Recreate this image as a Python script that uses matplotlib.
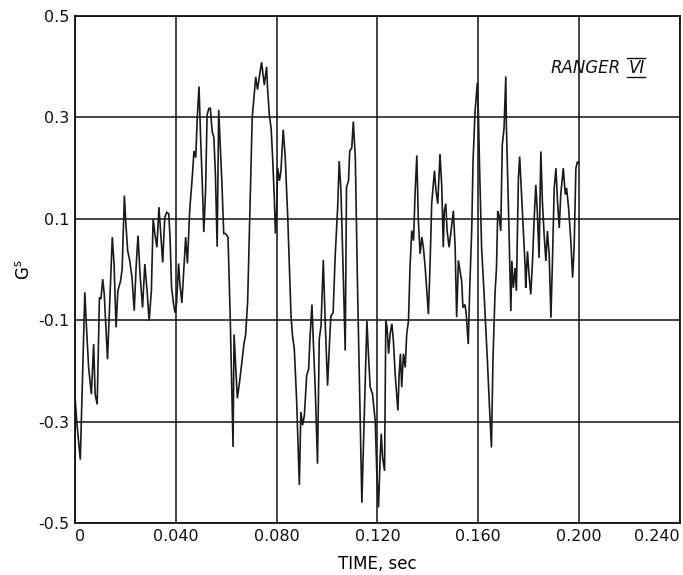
import matplotlib
matplotlib.use("Agg")
import matplotlib.pyplot as plt
from matplotlib.lines import Line2D

time_s = [
    0.0000, 0.0007, 0.0021, 0.0039, 0.0045, 0.0054, 0.0065, 0.0074, 0.0080, 0.0088,
    0.0097, 0.0103, 0.0110, 0.0116, 0.0129, 0.0135, 0.0148, 0.0155, 0.0163, 0.0170,
    0.0181, 0.0187, 0.0196, 0.0201, 0.0209, 0.0217, 0.0226, 0.0235, 0.0243, 0.0250,
    0.0258, 0.0268, 0.0277, 0.0286, 0.0294, 0.0303, 0.0310, 0.0317, 0.0325, 0.0333,
    0.0341, 0.0348, 0.0356, 0.0364, 0.0372, 0.0377, 0.0383, 0.0391, 0.0397,
    0.0403, 0.0411, 0.0416, 0.0424, 0.0433, 0.0439, 0.0446, 0.0455, 0.0466, 0.0472,
    0.0479, 0.0485, 0.0492, 0.0498, 0.0505, 0.0511, 0.0518, 0.0524, 0.0531, 0.0537,
    0.0544, 0.0551, 0.0557, 0.0564, 0.0570, 0.0577, 0.0583, 0.0590, 0.0597, 0.0607,
    0.0616, 0.0627, 0.0631, 0.0644, 0.0653, 0.0670, 0.0677, 0.0685, 0.0703, 0.0717,
    0.0724, 0.0740, 0.0751, 0.0760, 0.0764, 0.0771, 0.0778, 0.0784, 0.0791, 0.0795,
    0.0800, 0.0804, 0.0811, 0.0817, 0.0826, 0.0834, 0.0844, 0.0857, 0.0863, 0.0870,
    0.0879, 0.0890, 0.0896, 0.0903, 0.0910, 0.0919, 0.0927, 0.0932, 0.0940, 0.0945,
    0.0953, 0.0962, 0.0969, 0.0976, 0.0985, 0.0993, 0.1002, 0.1009, 0.1015, 0.1024,
    0.1032, 0.1042, 0.1048, 0.1055, 0.1064, 0.1072, 0.1077, 0.1085, 0.1090, 0.1098,
    0.1104, 0.1112, 0.1121, 0.1130, 0.1138,
    0.1158, 0.1164, 0.1171, 0.1180, 0.1191, 0.1197, 0.1204, 0.1211, 0.1215, 0.1220,
    0.1228, 0.1233, 0.1238, 0.1244, 0.1250, 0.1257, 0.1263, 0.1270, 0.1281, 0.1286,
    0.1291, 0.1296, 0.1303, 0.1310, 0.1316, 0.1323, 0.1329, 0.1336, 0.1343, 0.1349,
    0.1356, 0.1362, 0.1369, 0.1376, 0.1382, 0.1389, 0.1402, 0.1409, 0.1415, 0.1426,
    0.1432, 0.1439, 0.1448, 0.1455, 0.1461, 0.1465, 0.1471, 0.1476, 0.1484, 0.1492,
    0.1501, 0.1508, 0.1514, 0.1521,
    0.1534, 0.1539, 0.1547, 0.1552, 0.1560, 0.1566, 0.1574, 0.1579, 0.1587, 0.1596,
    0.1600, 0.1605, 0.1613, 0.1623, 0.1636, 0.1645, 0.1652, 0.1658, 0.1666, 0.1672,
    0.1677, 0.1682, 0.1689, 0.1695, 0.1702, 0.1709, 0.1711, 0.1715, 0.1722, 0.1729,
    0.1733, 0.1739, 0.1746, 0.1751, 0.1759, 0.1764, 0.1770, 0.1778, 0.1786, 0.1788,
    0.1795, 0.1801, 0.1808, 0.1815, 0.1821, 0.1828, 0.1834, 0.1841, 0.1848, 0.1854,
    0.1861, 0.1868, 0.1874, 0.1881, 0.1888, 0.1894, 0.1901, 0.1908, 0.1914, 0.1921,
    0.1927, 0.1937, 0.1945, 0.1950, 0.1958, 0.1967, 0.1974, 0.1980, 0.1987, 0.1993,
    0.1998,
]

accel_g = [
    -0.250, -0.300, -0.375, -0.045, -0.108, -0.193, -0.246, -0.147, -0.246, -0.266,
    -0.055, -0.058, -0.019, -0.048, -0.177, -0.101, 0.064, 0.011, -0.114, -0.042,
    -0.022, 0.001, 0.146, 0.097, 0.037, 0.018, -0.015, -0.081, 0.011, 0.067,
    -0.009, -0.075, 0.011, -0.042, -0.101, -0.042, 0.100, 0.070, 0.044, 0.123,
    0.064, 0.014, 0.103, 0.113, 0.110, 0.064, -0.035, -0.068, -0.085,
    -0.066, 0.012, -0.027, -0.066, 0.012, 0.064, 0.012, 0.116, 0.188, 0.234,
    0.221, 0.299, 0.361, 0.266, 0.169, 0.074, 0.155, 0.305, 0.318, 0.318,
    0.273, 0.260, 0.188, 0.045, 0.315, 0.234, 0.169, 0.071, 0.071, 0.064,
    -0.098, -0.350, -0.128, -0.254, -0.221, -0.148, -0.128, -0.062, 0.300, 0.380,
    0.355, 0.409, 0.364, 0.400, 0.357, 0.305, 0.279, 0.221, 0.136, 0.071,
    0.116, 0.201, 0.175, 0.195, 0.276, 0.221, 0.103, -0.092, -0.131, -0.157,
    -0.255, -0.425, -0.281, -0.307, -0.287, -0.209, -0.196, -0.137, -0.069, -0.137,
    -0.235, -0.383, -0.137, -0.111, 0.019, -0.111, -0.229, -0.151, -0.092, -0.085,
    0.025, 0.123, 0.214, 0.155, -0.007, -0.160, 0.162, 0.175, 0.234, 0.240,
    0.292, 0.221, -0.040, -0.268, -0.460,
    -0.101, -0.166, -0.232, -0.245, -0.298, -0.397, -0.469, -0.364, -0.324, -0.370,
    -0.397, -0.101, -0.114, -0.166, -0.127, -0.107, -0.140, -0.206, -0.278, -0.206,
    -0.166, -0.232, -0.166, -0.193, -0.127, -0.101, 0.005, 0.077, 0.057, 0.149,
    0.225, 0.097, 0.031, 0.064, 0.044, 0.005, -0.088, 0.018, 0.130, 0.195,
    0.156, 0.130, 0.228, 0.163, 0.044, 0.116, 0.130, 0.077, 0.044, 0.077,
    0.116, 0.044, -0.094, 0.018,
    -0.023, -0.075, -0.069, -0.088, -0.147, -0.036, 0.082, 0.213, 0.312, 0.368,
    0.312, 0.200, 0.043, -0.049, -0.180, -0.279, -0.351, -0.180, -0.049, 0.003,
    0.115, 0.108, 0.076, 0.246, 0.279, 0.381, 0.292, 0.213, 0.069, -0.082,
    0.017, -0.036, 0.003, -0.042, 0.181, 0.223, 0.161, 0.082, 0.003, -0.036,
    0.036, -0.010, -0.049, 0.017, 0.095, 0.167, 0.115, 0.023, 0.233, 0.135,
    0.069, 0.017, 0.076, 0.030, -0.095, 0.017, 0.161, 0.200, 0.135, 0.082,
    0.148, 0.200, 0.148, 0.161, 0.122, 0.056, -0.016, 0.043, 0.200, 0.213,
    0.210,
]

x_ticks = [0.0, 0.04, 0.08, 0.12, 0.16, 0.20, 0.24]
x_tick_labels = ["0", "0.040", "0.080", "0.120", "0.160", "0.200", "0.240"]
y_ticks = [-0.5, -0.3, -0.1, 0.1, 0.3, 0.5]
y_tick_labels = ["-0.5", "-0.3", "-0.1", "0.1", "0.3", "0.5"]

fig = plt.figure(figsize=(6.83, 5.75), dpi=100)
ax = fig.add_axes([0.1098, 0.0904, 0.8858, 0.8816])

ax.plot(time_s, accel_g, color="#1a1a1a", lw=1.2, solid_joinstyle="miter")

ax.set_xlim(0, 0.24)
ax.set_ylim(-0.5, 0.5)
ax.set_xticks(x_ticks)
ax.set_xticklabels(x_tick_labels)
ax.set_yticks(y_ticks)
ax.set_yticklabels(y_tick_labels)
ax.tick_params(length=0, labelsize=11.5, pad=4, colors="#111111")
xl = ax.get_xticklabels()
xl[-1].set_horizontalalignment("right")
xl[0].set_horizontalalignment("left")
ax.grid(True, color="#111111", lw=1.1)
for s in ax.spines.values():
    s.set_linewidth(1.3)
    s.set_color("#111111")

ax.set_xlabel("TIME, sec", fontsize=12, labelpad=8)
ax.set_ylabel("G$^{\\mathrm{s}}$", fontsize=12, labelpad=4)

ax.text(0.1885, 0.397, "RANGER", fontsize=12, style="italic",
        va="center", ha="left", color="#111111")
vi = ax.text(0.2195, 0.397, "VI", fontsize=12, style="italic",
             va="center", ha="left", color="#111111")

# bars over and under the roman numeral, sized to the rendered text
fig.canvas.draw()
bb = vi.get_window_extent().transformed(ax.transData.inverted())
for yy in (0.379, 0.417):
    ax.add_line(Line2D([bb.x0 - 0.0005, bb.x1 + 0.0003], [yy, yy],
                       color="#111111", lw=1.0))

fig.savefig("out.png", dpi=100)
